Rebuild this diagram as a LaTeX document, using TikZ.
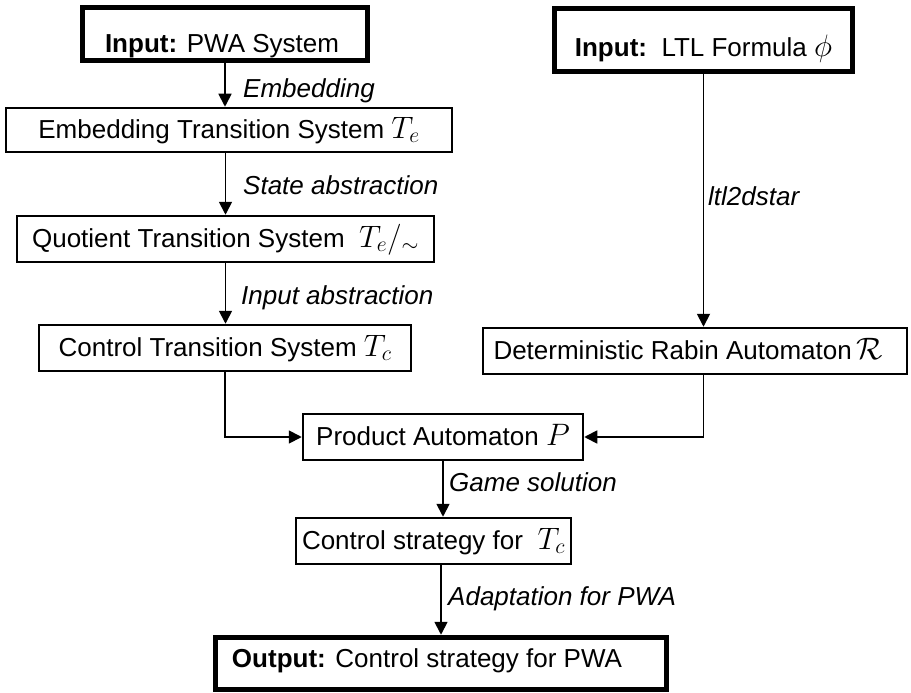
\documentclass[tikz,border=0pt]{standalone}
\usepackage{fix-cm}
\usepackage{fontspec}
\setmainfont{Liberation Sans}
\usetikzlibrary{arrows.meta}
\newcommand{\mth}[1]{{\fontsize{31}{33}\selectfont$#1$}}
\tikzset{
  box/.style={draw, line width=2pt, inner xsep=0pt, inner ysep=0pt,
    font=\fontsize{26}{30}\selectfont, text height=31.25pt, text depth=15.25pt},
  thickbox/.style={box, line width=5.5pt},
  arr/.style={line width=1.8pt, -{Triangle[length=13pt,width=13pt]}},
  lbl/.style={font=\fontsize{26}{30}\selectfont\itshape, inner sep=0pt, anchor=base west}
}
\begin{document}
\begin{tikzpicture}[x=1pt,y=-1pt]
\useasboundingbox (0,0) rectangle (911,693);
% boxes
\node[thickbox, minimum width=285pt, text height=45.5pt, text depth=7.5pt] (b1) at (225,34) {\textbf{Input:} PWA System\hspace*{6pt}};
\node[box, minimum width=446.5pt, text height=30.25pt, text depth=14.25pt] (emb) at (229,130) {Embedding Transition System \mth{T_e}};
\node[box, minimum width=417.5pt] (quot) at (225.5,239) {Quotient Transition System \ \mth{T_e/_{\sim}}};
\node[box, minimum width=372.5pt] (ctrl) at (225,348) {Control Transition System \mth{T_c}};
\node[thickbox, minimum width=298pt, text height=48.5pt, text depth=14.5pt] (ltl) at (703.5,40) {\textbf{Input:}\ \ LTL Formula \mth{\phi}};
\node[box, minimum width=424.5pt] (rabin) at (695,351) {Deterministic Rabin Automaton\,\mth{\mathcal{R}}\hspace*{14pt}};
\node[box, minimum width=280.5pt] (prod) at (443,437) {Product Automaton \mth{P}};
\node[box, minimum width=275.5pt] (cs) at (433.5,541) {Control strategy for \ \mth{T_c}};
\node[thickbox, minimum width=451pt, text height=29.5pt, text depth=22.5pt] (out) at (441,663.5) {\textbf{Output:} Control strategy for PWA\hspace*{28pt}};
% connectors
\draw[arr] (b1.south) -- (b1.south |- emb.north);
\draw[arr] (quot.north |- emb.south) -- (quot.north);
\draw[arr] (quot.south) -- (quot.south |- ctrl.north);
\draw[arr] (ctrl.south) |- (prod.west);
\draw[arr] (ltl.south) -- (ltl.south |- rabin.north);
\draw[arr] (ltl.south |- rabin.south) |- (prod.east);
\draw[arr] (prod.south) -- (prod.south |- cs.north);
\draw[arr] (out.north |- cs.south) -- (out.north);
% labels
\node[lbl] (l1) at (243,98) {Embedding};
\node[lbl] (l2) at (243,194) {State abstraction};
\node[lbl] (l3) at (241,304) {Input abstraction};
\node[lbl] (l4) at (708,205) {ltl2dstar};
\node[lbl] (l5) at (449,491) {Game solution};
\node[lbl] (l6) at (448,605) {Adaptation for PWA};
\end{tikzpicture}
\end{document}
